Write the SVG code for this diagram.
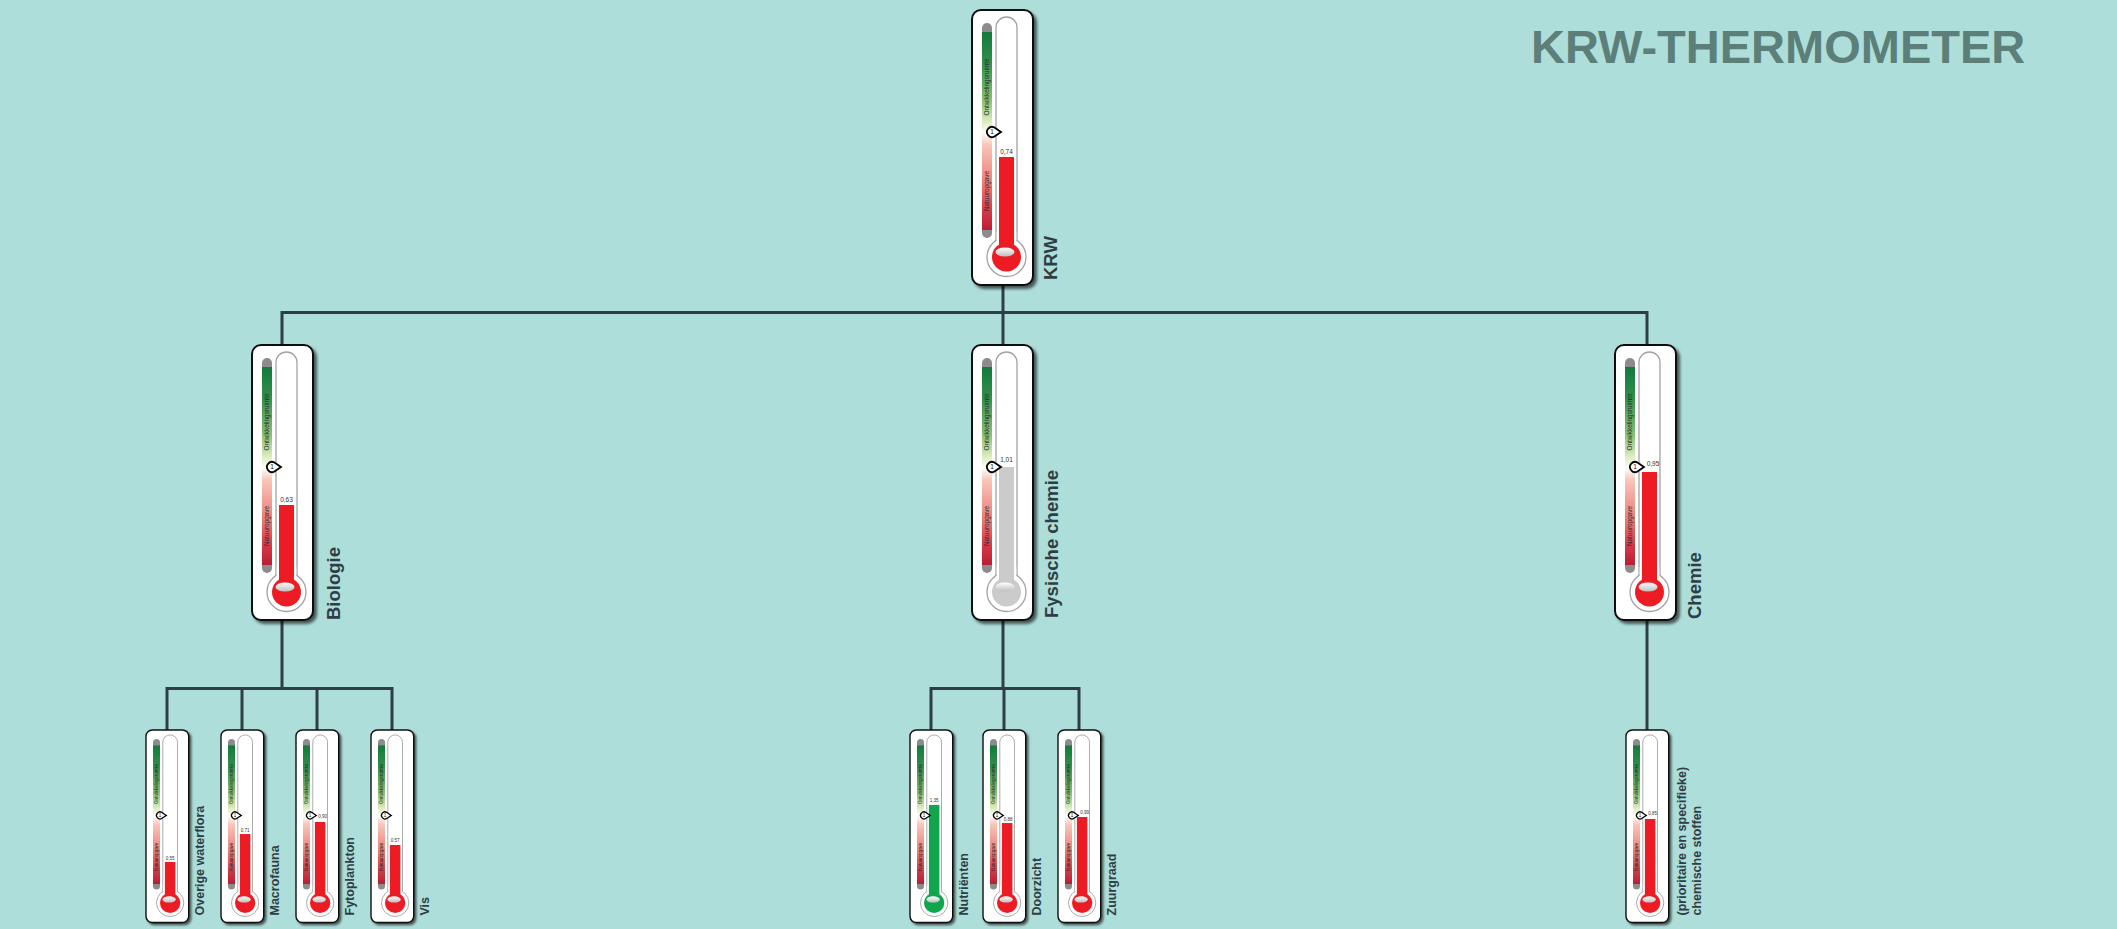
<svg xmlns="http://www.w3.org/2000/svg" xmlns:xlink="http://www.w3.org/1999/xlink" width="2117" height="929" viewBox="0 0 2117 929">
<style>
.card{fill:#fff;stroke:#111;stroke-width:2}
.tube{fill:#fff;stroke:#a3a3a3;stroke-width:1.3}
.red{fill:#ed1c24}
.grey{fill:#cbcbcb}
.green{fill:#10a64e}
.gt{font-family:"Liberation Sans",Arial,sans-serif;font-size:6.4px;fill:#2a2a2a;text-anchor:middle}
.one{font-family:"Liberation Sans",Arial,sans-serif;font-size:6.5px;fill:#111;text-anchor:middle}
.val{font-family:"Liberation Sans",Arial,sans-serif;font-size:6.5px;fill:#333;text-anchor:middle}
.lbl{font-family:"Liberation Sans",Arial,sans-serif;font-weight:bold;font-size:18.5px;fill:#2f3e46}
.slbl{font-family:"Liberation Sans",Arial,sans-serif;font-weight:bold;font-size:12.5px;fill:#2f3e46}
.title{font-family:"Liberation Sans",Arial,sans-serif;font-weight:bold;font-size:47px;fill:#5c7f7a}
.conn{fill:none;stroke:#2f3e46;stroke-width:3}
</style>
<defs>
<linearGradient id="gauge" x1="0" y1="0" x2="0" y2="1">
<stop offset="0" stop-color="#137a3e"/>
<stop offset="0.15" stop-color="#2f8f4a"/>
<stop offset="0.35" stop-color="#8cc474"/>
<stop offset="0.46" stop-color="#e2efc6"/>
<stop offset="0.51" stop-color="#fffdf6"/>
<stop offset="0.57" stop-color="#f9c6ba"/>
<stop offset="0.76" stop-color="#ec7f78"/>
<stop offset="0.9" stop-color="#d63a48"/>
<stop offset="1" stop-color="#b81e34"/>
</linearGradient>
<linearGradient id="hl" x1="0" y1="0" x2="0" y2="1">
<stop offset="0" stop-color="#ffffff"/>
<stop offset="1" stop-color="#bdbdbd"/>
</linearGradient>
<filter id="shadow" x="-20%" y="-10%" width="150%" height="125%">
<feDropShadow dx="3" dy="3" stdDeviation="1.6" flood-color="#000" flood-opacity="0.6"/>
</filter>
<g id="tb">
<rect class="card" x="0" y="0" width="61" height="275" rx="9" filter="url(#shadow)"/>
<rect x="10" y="13" width="10" height="215" rx="5" fill="#8c8c8c"/>
<rect x="10" y="22" width="10" height="198" fill="url(#gauge)"/>
<rect class="tube" x="24" y="7" width="21" height="240" rx="10.5"/>
<circle class="tube" cx="34.5" cy="247" r="19.5"/>
<rect x="24.7" y="222" width="19.6" height="27" fill="#fff"/>
</g>
<g id="mk">
<ellipse cx="33" cy="242" rx="9.5" ry="4.5" fill="url(#hl)"/>
<path d="M29,122 L22.78,117.84 A5,5 0 1,0 22.78,126.16 Z" fill="#fff" stroke="#000" stroke-width="1.8"/>
</g>
</defs>
<rect x="0" y="0" width="2117" height="929" fill="#addeda"/>
<text class="title" x="1531" y="63">KRW-THERMOMETER</text>

<g id="connectors">
<path class="conn" d="M1003,285 V312.5"/>
<path class="conn" d="M282,345 V312.5 H1647 V345"/>
<path class="conn" d="M1003,312.5 V345"/>
<path class="conn" d="M282,620 V688.5"/>
<path class="conn" d="M167,730 V688.5 H392 V730"/>
<path class="conn" d="M242,688.5 V730"/>
<path class="conn" d="M317,688.5 V730"/>
<path class="conn" d="M1003,620 V688.5"/>
<path class="conn" d="M931,730 V688.5 H1079 V730"/>
<path class="conn" d="M1004,688.5 V730"/>
<path class="conn" d="M1647,620 V730"/>
</g>

<g id="node-krw">
<g transform="translate(972,10)">
<use href="#tb" xlink:href="#tb"/>
<text class="gt" transform="translate(17.2,77) rotate(-90)">Ontwikkelingsruimte</text>
<text class="gt" transform="translate(17.2,181) rotate(-90)">Natuuropgave</text>
<rect class="red" x="27" y="147" width="15" height="100"/>
<circle class="red" cx="34.5" cy="247" r="14.5"/>
<use href="#mk" xlink:href="#mk"/>
<text class="one" x="20" y="124.3">1</text>
<text class="val" x="34.5" y="144">0,74</text>
</g>
<text class="lbl" transform="translate(1057,280) rotate(-90)">KRW</text>
</g>

<g id="node-biologie">
<g transform="translate(252,345)">
<use href="#tb" xlink:href="#tb"/>
<text class="gt" transform="translate(17.2,77) rotate(-90)">Ontwikkelingsruimte</text>
<text class="gt" transform="translate(17.2,181) rotate(-90)">Natuuropgave</text>
<rect class="red" x="27" y="160" width="15" height="87"/>
<circle class="red" cx="34.5" cy="247" r="14.5"/>
<use href="#mk" xlink:href="#mk"/>
<text class="one" x="20" y="124.3">1</text>
<text class="val" x="34.5" y="157">0,63</text>
</g>
<text class="lbl" transform="translate(340,620) rotate(-90)">Biologie</text>
</g>

<g id="node-fysische-chemie">
<g transform="translate(972,345)">
<use href="#tb" xlink:href="#tb"/>
<text class="gt" transform="translate(17.2,77) rotate(-90)">Ontwikkelingsruimte</text>
<text class="gt" transform="translate(17.2,181) rotate(-90)">Natuuropgave</text>
<rect class="grey" x="27" y="122" width="15" height="125"/>
<circle class="grey" cx="34.5" cy="247" r="14.5"/>
<use href="#mk" xlink:href="#mk"/>
<text class="one" x="20" y="124.3">1</text>
<text class="val" x="34.5" y="117">1,01</text>
</g>
<text class="lbl" transform="translate(1058,618) rotate(-90)">Fysische chemie</text>
</g>

<g id="node-chemie">
<g transform="translate(1615,345)">
<use href="#tb" xlink:href="#tb"/>
<text class="gt" transform="translate(17.2,77) rotate(-90)">Ontwikkelingsruimte</text>
<text class="gt" transform="translate(17.2,181) rotate(-90)">Natuuropgave</text>
<rect class="red" x="27" y="127" width="15" height="120"/>
<circle class="red" cx="34.5" cy="247" r="14.5"/>
<use href="#mk" xlink:href="#mk"/>
<text class="one" x="20" y="124.3">1</text>
<text class="val" x="38" y="121">0,95</text>
</g>
<text class="lbl" transform="translate(1701,619) rotate(-90)">Chemie</text>
</g>

<g id="node-overige-waterflora">
<g transform="translate(146,730) scale(0.7)">
<use href="#tb" xlink:href="#tb"/>
<text class="gt" transform="translate(17.2,77) rotate(-90)">Ontwikkelingsruimte</text>
<text class="gt" transform="translate(17.2,181) rotate(-90)">Natuuropgave</text>
<rect class="red" x="27" y="188.6" width="15" height="58.4"/>
<circle class="red" cx="34.5" cy="247" r="14.5"/>
<use href="#mk" xlink:href="#mk"/>
<text class="one" x="20" y="124.3">1</text>
<text class="val" x="34.5" y="185">0,55</text>
</g>
<text class="slbl" transform="translate(203.5,915.5) rotate(-90)">Overige waterflora</text>
</g>

<g id="node-macrofauna">
<g transform="translate(221,730) scale(0.7)">
<use href="#tb" xlink:href="#tb"/>
<text class="gt" transform="translate(17.2,77) rotate(-90)">Ontwikkelingsruimte</text>
<text class="gt" transform="translate(17.2,181) rotate(-90)">Natuuropgave</text>
<rect class="red" x="27" y="148.6" width="15" height="98.4"/>
<circle class="red" cx="34.5" cy="247" r="14.5"/>
<use href="#mk" xlink:href="#mk"/>
<text class="one" x="20" y="124.3">1</text>
<text class="val" x="34.5" y="145">0,71</text>
</g>
<text class="slbl" transform="translate(278.5,915.5) rotate(-90)">Macrofauna</text>
</g>

<g id="node-fytoplankton">
<g transform="translate(296,730) scale(0.7)">
<use href="#tb" xlink:href="#tb"/>
<text class="gt" transform="translate(17.2,77) rotate(-90)">Ontwikkelingsruimte</text>
<text class="gt" transform="translate(17.2,181) rotate(-90)">Natuuropgave</text>
<rect class="red" x="27" y="131.4" width="15" height="115.6"/>
<circle class="red" cx="34.5" cy="247" r="14.5"/>
<use href="#mk" xlink:href="#mk"/>
<text class="one" x="20" y="124.3">1</text>
<text class="val" x="38" y="126">0,90</text>
</g>
<text class="slbl" transform="translate(353.5,915.5) rotate(-90)">Fytoplankton</text>
</g>

<g id="node-vis">
<g transform="translate(371,730) scale(0.7)">
<use href="#tb" xlink:href="#tb"/>
<text class="gt" transform="translate(17.2,77) rotate(-90)">Ontwikkelingsruimte</text>
<text class="gt" transform="translate(17.2,181) rotate(-90)">Natuuropgave</text>
<rect class="red" x="27" y="164.3" width="15" height="82.7"/>
<circle class="red" cx="34.5" cy="247" r="14.5"/>
<use href="#mk" xlink:href="#mk"/>
<text class="one" x="20" y="124.3">1</text>
<text class="val" x="34.5" y="160.5">0,57</text>
</g>
<text class="slbl" transform="translate(428.5,915.5) rotate(-90)">Vis</text>
</g>

<g id="node-nutrienten">
<g transform="translate(910,730) scale(0.7)">
<use href="#tb" xlink:href="#tb"/>
<text class="gt" transform="translate(17.2,77) rotate(-90)">Ontwikkelingsruimte</text>
<text class="gt" transform="translate(17.2,181) rotate(-90)">Natuuropgave</text>
<rect class="green" x="27" y="107" width="15" height="140"/>
<circle class="green" cx="34.5" cy="247" r="14.5"/>
<use href="#mk" xlink:href="#mk"/>
<text class="one" x="20" y="124.3">1</text>
<text class="val" x="34.5" y="103.5">1,35</text>
</g>
<text class="slbl" transform="translate(967.5,915.5) rotate(-90)">Nutriënten</text>
</g>

<g id="node-doorzicht">
<g transform="translate(983,730) scale(0.7)">
<use href="#tb" xlink:href="#tb"/>
<text class="gt" transform="translate(17.2,77) rotate(-90)">Ontwikkelingsruimte</text>
<text class="gt" transform="translate(17.2,181) rotate(-90)">Natuuropgave</text>
<rect class="red" x="27" y="132.9" width="15" height="114.1"/>
<circle class="red" cx="34.5" cy="247" r="14.5"/>
<use href="#mk" xlink:href="#mk"/>
<text class="one" x="20" y="124.3">1</text>
<text class="val" x="36" y="130">0,88</text>
</g>
<text class="slbl" transform="translate(1040.5,915.5) rotate(-90)">Doorzicht</text>
</g>

<g id="node-zuurgraad">
<g transform="translate(1058,730) scale(0.7)">
<use href="#tb" xlink:href="#tb"/>
<text class="gt" transform="translate(17.2,77) rotate(-90)">Ontwikkelingsruimte</text>
<text class="gt" transform="translate(17.2,181) rotate(-90)">Natuuropgave</text>
<rect class="red" x="27" y="124.3" width="15" height="122.7"/>
<circle class="red" cx="34.5" cy="247" r="14.5"/>
<use href="#mk" xlink:href="#mk"/>
<text class="one" x="20" y="124.3">1</text>
<text class="val" x="38" y="120">0,99</text>
</g>
<text class="slbl" transform="translate(1115.5,915.5) rotate(-90)">Zuurgraad</text>
</g>

<g id="node-chemische-stoffen">
<g transform="translate(1626,730) scale(0.7)">
<use href="#tb" xlink:href="#tb"/>
<text class="gt" transform="translate(17.2,77) rotate(-90)">Ontwikkelingsruimte</text>
<text class="gt" transform="translate(17.2,181) rotate(-90)">Natuuropgave</text>
<rect class="red" x="27" y="127.1" width="15" height="119.9"/>
<circle class="red" cx="34.5" cy="247" r="14.5"/>
<use href="#mk" xlink:href="#mk"/>
<text class="one" x="20" y="124.3">1</text>
<text class="val" x="38" y="121">0,85</text>
</g>
<text class="slbl" transform="translate(1686,915.5) rotate(-90)">(prioritaire en specifieke)</text>
<text class="slbl" transform="translate(1701,915.5) rotate(-90)">chemische stoffen</text>
</g>
</svg>
